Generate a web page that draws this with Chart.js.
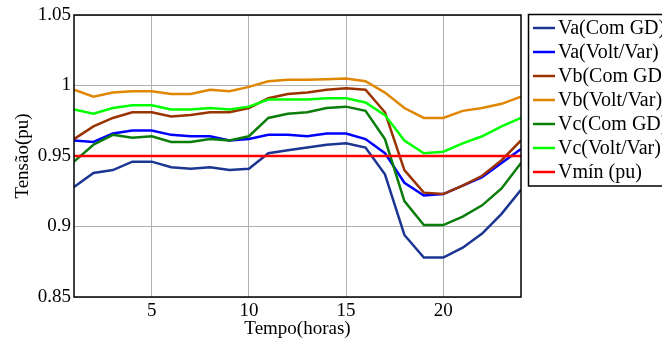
<!DOCTYPE html>
<html>
<head>
<meta charset="utf-8">
<script src="https://cdn.jsdelivr.net/npm/chart.js@4"></script>
<style>
  html, body { margin: 0; padding: 0; background: #fff; }
  #wrap { width: 662px; height: 343px; }
</style>
</head>
<body>
<div id="wrap"><canvas id="c" width="662" height="343"></canvas></div>
<script>
/* dados (pu) por hora */
const HOURS = [1,2,3,4,5,6,7,8,9,10,11,12,13,14,15,16,17,18,19,20,21,22,23,24];

const VA_COM_GD   = [0.928,0.938,0.940,0.946,0.946,0.942,0.941,0.942,0.940,0.941,0.952,0.954,0.956,0.958,0.959,0.956,0.937,0.894,0.878,0.878,0.885,0.895,0.909,0.926];
const VA_VOLT_VAR = [0.961,0.960,0.966,0.968,0.968,0.965,0.964,0.964,0.961,0.962,0.965,0.965,0.964,0.966,0.966,0.962,0.952,0.931,0.922,0.923,0.929,0.935,0.945,0.955];
const VB_COM_GD   = [0.962,0.971,0.977,0.981,0.981,0.978,0.979,0.981,0.981,0.984,0.991,0.994,0.995,0.997,0.998,0.997,0.981,0.940,0.924,0.923,0.929,0.936,0.947,0.961];
const VB_VOLT_VAR = [0.997,0.992,0.995,0.996,0.996,0.994,0.994,0.997,0.996,0.999,1.003,1.004,1.004,1.0045,1.005,1.003,0.995,0.984,0.977,0.977,0.982,0.984,0.987,0.992];
const VC_COM_GD   = [0.946,0.958,0.965,0.963,0.964,0.960,0.960,0.962,0.961,0.964,0.977,0.980,0.981,0.984,0.985,0.982,0.962,0.918,0.901,0.901,0.907,0.915,0.927,0.945];
const VC_VOLT_VAR = [0.983,0.980,0.984,0.986,0.986,0.983,0.983,0.984,0.983,0.985,0.990,0.990,0.990,0.991,0.991,0.988,0.979,0.961,0.952,0.953,0.959,0.964,0.971,0.977];
const V_MIN       = [0.95,0.95,0.95,0.95,0.95,0.95,0.95,0.95,0.95,0.95,0.95,0.95,0.95,0.95,0.95,0.95,0.95,0.95,0.95,0.95,0.95,0.95,0.95,0.95];

const SERIES_LABELS = ["Va(Com GD)","Va(Volt/Var)","Vb(Com GD)","Vb(Volt/Var)","Vc(Com GD)","Vc(Volt/Var)","Vmín (pu)"];
const SERIES_DATA   = [VA_COM_GD, VA_VOLT_VAR, VB_COM_GD, VB_VOLT_VAR, VC_COM_GD, VC_VOLT_VAR, V_MIN];
const COLORS = ["#1c3593","#0000ff","#9a3300","#e08600","#0a7d0a","#00ff00","#ff0000"];

const X_TICKS = [5, 10, 15, 20];
const Y_TICKS = [0.85, 0.9, 0.95, 1, 1.05];

const FONT = "'Liberation Serif', 'Times New Roman', serif";
Chart.defaults.font.family = FONT;
Chart.defaults.color = "#000";

/* ── legenda desenhada à mão (estilo MATLAB) ── */
const legendBox = {
  id: "legendBox",
  afterDraw(chart) {
    const ctx = chart.ctx;
    const x0 = 528.5, y0 = 14.5, w = 150, h = 171.5;
    ctx.save();
    ctx.fillStyle = "#fff";
    ctx.fillRect(x0, y0, w, h);
    ctx.strokeStyle = "#000";
    ctx.lineWidth = 1.5;
    ctx.strokeRect(x0, y0, w, h);
    ctx.font = "20px " + FONT;
    ctx.textBaseline = "middle";
    ctx.textAlign = "left";
    chart.data.datasets.forEach((ds, i) => {
      const y = 28 + i * 24;
      ctx.strokeStyle = ds.borderColor;
      ctx.lineWidth = 2.5;
      ctx.beginPath();
      ctx.moveTo(533, y);
      ctx.lineTo(555, y);
      ctx.stroke();
      ctx.fillStyle = "#000";
      ctx.fillText(ds.label, 558, y + 1);
    });
    ctx.restore();
  },
};

/* caixa dos eixos por cima das linhas */
const axesBox = {
  id: "axesBox",
  afterDatasetsDraw(chart) {
    const { ctx, chartArea: a } = chart;
    ctx.save();
    ctx.strokeStyle = "#000";
    ctx.lineWidth = 1.5;
    ctx.strokeRect(a.left, a.top, a.right - a.left, a.bottom - a.top);
    ctx.restore();
  },
};

const datasets = SERIES_DATA.map((arr, i) => ({
  label: SERIES_LABELS[i],
  data: arr.map((v, k) => ({ x: HOURS[k], y: v })),
  borderColor: COLORS[i],
  backgroundColor: COLORS[i],
  borderWidth: 2.5,
  pointRadius: 0,
  tension: 0,
  fill: false,
  order: SERIES_DATA.length - i,
}));

new Chart(document.getElementById("c"), {
  type: "line",
  data: { datasets },
  options: {
    responsive: false,
    animation: false,
    devicePixelRatio: 1,
    layout: { padding: { top: 15, right: 141, left: 0, bottom: 0 } },
    plugins: { legend: { display: false }, tooltip: { enabled: false } },
    scales: {
      x: {
        type: "linear",
        min: 1, max: 24,
        afterBuildTicks: s => { s.ticks = X_TICKS.map(v => ({ value: v })); },
        afterFit: s => { s.height = 46; },
        ticks: { font: { family: FONT, size: 19 }, padding: 3, maxRotation: 0, color: "#000" },
        grid: { color: "#b0b0b0", lineWidth: 1, drawTicks: false },
        border: { display: false },
        title: { display: true, text: "Tempo(horas)", font: { family: FONT, size: 19 }, padding: { top: 0, bottom: 3 }, color: "#000" },
      },
      y: {
        type: "linear",
        min: 0.85, max: 1.05,
        afterBuildTicks: s => { s.ticks = Y_TICKS.map(v => ({ value: v })); },
        afterFit: s => { s.width = 74; },
        ticks: { font: { family: FONT, size: 19 }, padding: 3, color: "#000", callback: v => String(v) },
        grid: { color: "#b0b0b0", lineWidth: 1, drawTicks: false },
        border: { display: false },
        title: { display: true, text: "Tensão(pu)", font: { family: FONT, size: 19 }, padding: { top: 12, bottom: 0 }, color: "#000" },
      },
    },
  },
  plugins: [axesBox, legendBox],
});
</script>
</body>
</html>
